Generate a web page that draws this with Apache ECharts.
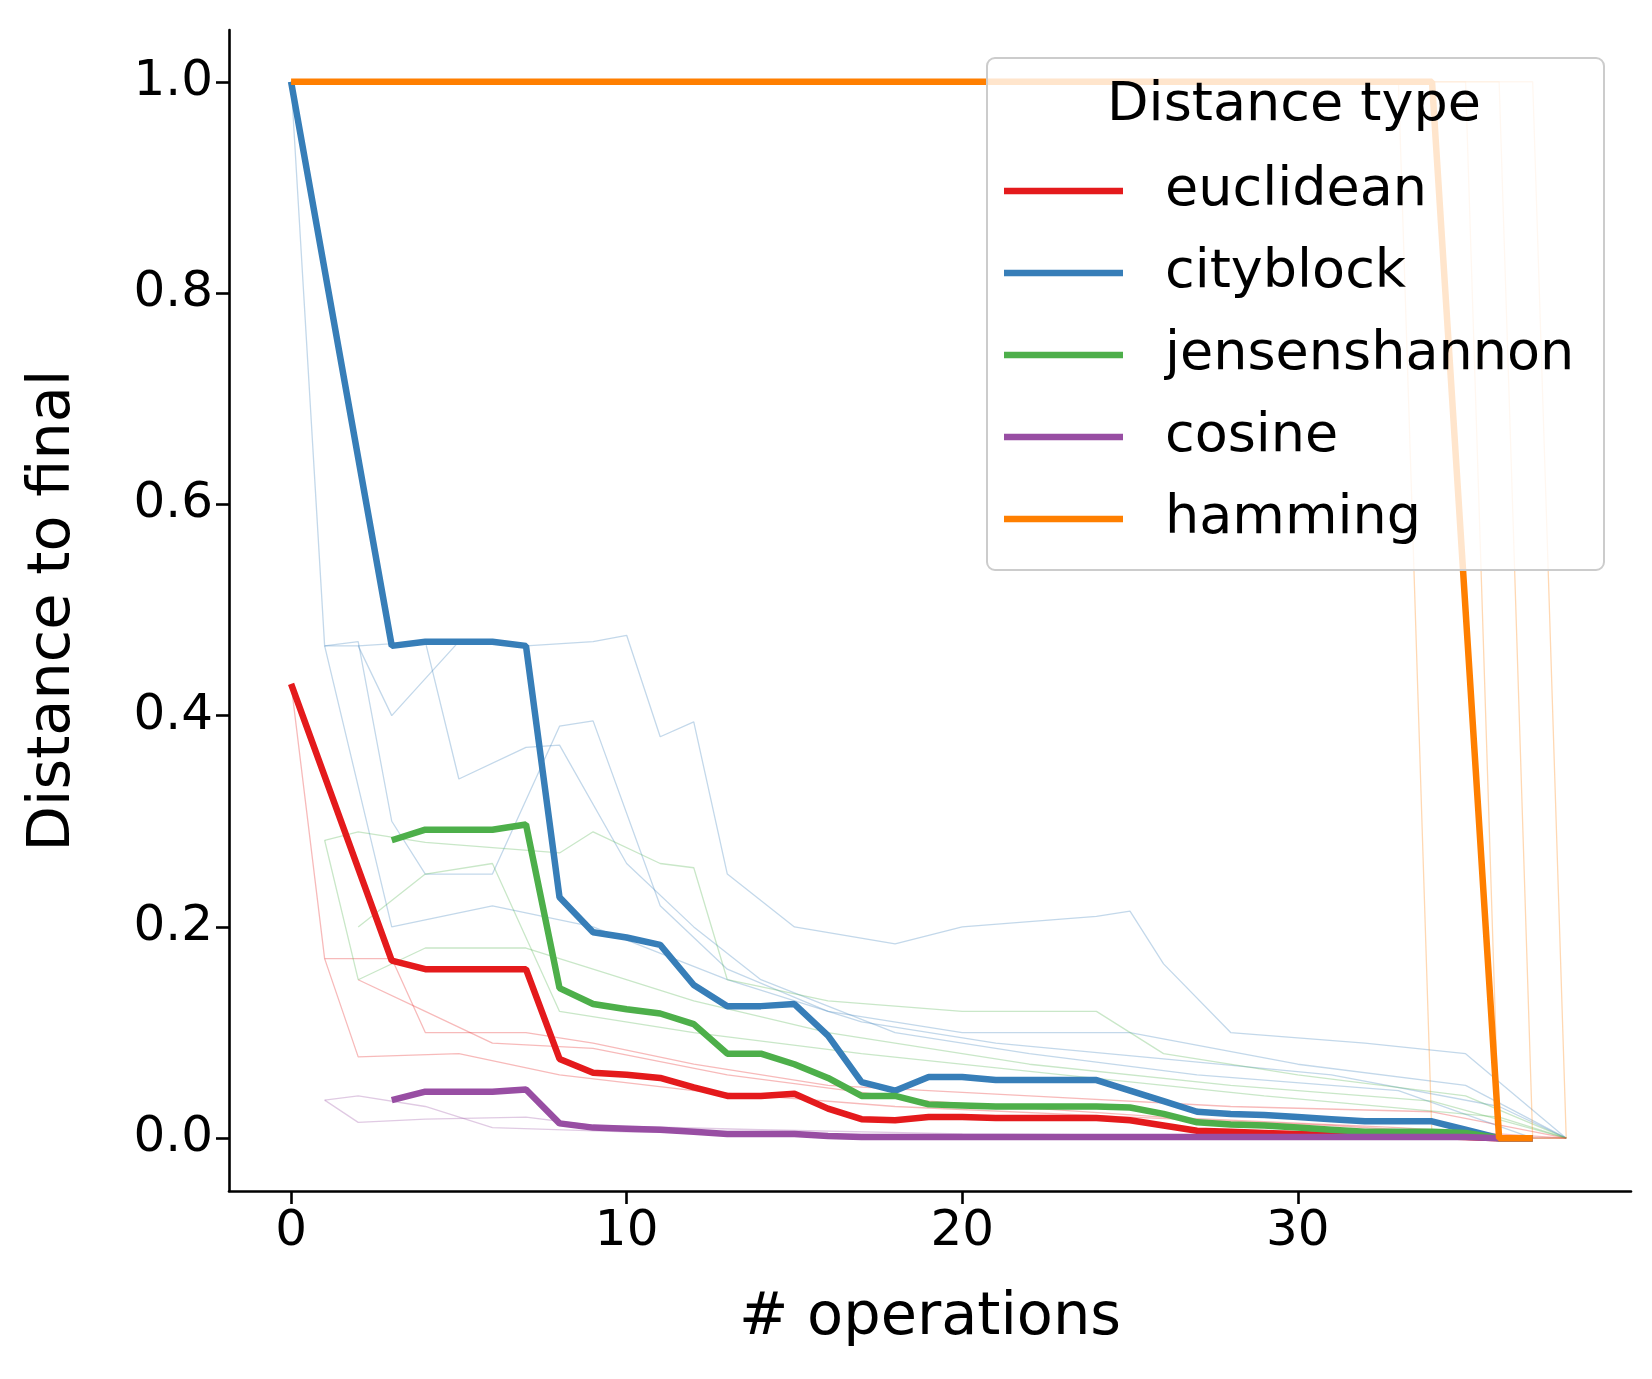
<!DOCTYPE html>
<html><head><meta charset="utf-8">
<script src="https://cdn.jsdelivr.net/npm/echarts@6/dist/echarts.min.js"></script>
<style>html,body{margin:0;padding:0;background:#fff}#c{width:1652px;height:1379px}</style>
</head><body><div id="c"></div>
<script>
const euclidX=[0,3,4,5,6,7,8,9,10,11,12,13,14,15,16,17,18,19,20,21,22,23,24,25,26,27,28,29,30,31,32,33,34,35,36,37];
const euclidY=[0.43,0.168,0.16,0.16,0.16,0.16,0.075,0.062,0.06,0.057,0.048,0.04,0.04,0.042,0.028,0.018,0.017,0.02,0.02,0.019,0.019,0.019,0.019,0.017,0.012,0.007,0.006,0.005,0.004,0.003,0.002,0.002,0.002,0.001,0,0];
const cityX=[0,3,4,5,6,7,8,9,10,11,12,13,14,15,16,17,18,19,20,21,22,23,24,25,26,27,28,29,30,31,32,33,34,35,36,37];
const cityY=[1.0,0.466,0.47,0.47,0.47,0.466,0.228,0.195,0.19,0.183,0.145,0.125,0.125,0.127,0.097,0.053,0.045,0.058,0.058,0.055,0.055,0.055,0.055,0.045,0.035,0.025,0.023,0.022,0.02,0.018,0.016,0.016,0.016,0.008,0,0];
const jsX=[3,4,5,6,7,8,9,10,11,12,13,14,15,16,17,18,19,20,21,22,23,24,25,26,27,28,29,30,31,32,33,34,35,36,37];
const jsY=[0.282,0.292,0.292,0.292,0.297,0.142,0.127,0.122,0.118,0.108,0.08,0.08,0.07,0.057,0.04,0.04,0.032,0.031,0.03,0.03,0.03,0.03,0.029,0.023,0.015,0.013,0.012,0.01,0.008,0.006,0.006,0.006,0.005,0,0];
const cosX=[3,4,5,6,7,8,9,10,11,12,13,14,15,16,17,18,19,20,21,22,23,24,25,26,27,28,29,30,31,32,33,34,35,36,37];
const cosY=[0.036,0.044,0.044,0.044,0.046,0.014,0.01,0.009,0.008,0.006,0.004,0.004,0.004,0.002,0.001,0.001,0.001,0.001,0.001,0.001,0.001,0.001,0.001,0.001,0.001,0.001,0.001,0.001,0.001,0.001,0.001,0.001,0.001,0,0];
const hamX=[0,34,36,37];
const hamY=[1.0,1.0,0,0];
const faintCity=[
 [[0,1.0],[1,0.466],[2,0.466],[3,0.4],[5,0.47],[7,0.466],[9,0.47],[10,0.476],[11,0.38],[12,0.394],[13,0.25],[15,0.2],[18,0.184],[20,0.2],[24,0.21],[25,0.215],[26,0.165],[28,0.1],[32,0.09],[35,0.08],[38,0]],
 [[1,0.466],[2,0.47],[3,0.3],[4,0.25],[6,0.25],[8,0.39],[9,0.395],[11,0.22],[13,0.16],[16,0.12],[20,0.1],[25,0.1],[30,0.07],[35,0.05],[38,0]],
 [[2,0.466],[4,0.47],[5,0.34],[7,0.37],[8,0.372],[10,0.26],[12,0.2],[14,0.15],[18,0.1],[22,0.08],[27,0.06],[33,0.045],[37,0]],
 [[1,0.466],[3,0.2],[6,0.22],[9,0.2],[13,0.15],[17,0.11],[21,0.09],[26,0.075],[31,0.06],[36,0.03],[38,0]]];
const faintEuclid=[
 [[0,0.43],[1,0.17],[3,0.17],[4,0.1],[7,0.1],[9,0.09],[12,0.07],[16,0.05],[22,0.04],[28,0.03],[34,0.025],[38,0]],
 [[1,0.17],[2,0.077],[5,0.08],[8,0.06],[12,0.045],[18,0.03],[25,0.02],[31,0.012],[37,0]],
 [[2,0.15],[4,0.12],[6,0.09],[9,0.085],[13,0.06],[19,0.035],[26,0.02],[33,0.01],[38,0]]];
const faintJs=[
 [[1,0.282],[2,0.29],[4,0.28],[8,0.27],[9,0.29],[11,0.26],[12,0.256],[13,0.15],[16,0.13],[20,0.12],[24,0.12],[26,0.08],[30,0.06],[35,0.04],[38,0]],
 [[1,0.282],[2,0.15],[4,0.18],[7,0.18],[9,0.16],[12,0.13],[16,0.1],[22,0.07],[28,0.05],[34,0.035],[38,0]],
 [[2,0.2],[4,0.25],[6,0.26],[8,0.12],[12,0.1],[17,0.08],[23,0.06],[29,0.04],[36,0.02],[38,0]]];
const faintCos=[
 [[1,0.036],[2,0.015],[4,0.018],[7,0.02],[9,0.012],[14,0.008],[20,0.004],[30,0.002],[38,0]],
 [[1,0.036],[2,0.04],[4,0.03],[6,0.01],[10,0.006],[18,0.003],[28,0.001],[38,0]]];
const faintHam=[
 [[0,1.0],[33,1.0],[34,0],[38,0]],[[0,1.0],[35,1.0],[36,0],[38,0]],[[0,1.0],[37,1.0],[38,0]],[[0,1.0],[36,1.0],[37,0]]];

const C={euclidean:'#e41a1c',cityblock:'#377eb8',jensenshannon:'#4daf4a',cosine:'#984ea3',hamming:'#ff7f00'};
const zip=(xs,ys)=>xs.map((x,i)=>[x,ys[i]]);
const series=[];
function faint(arr,col){arr.forEach(d=>series.push({type:'line',data:d,symbol:'none',silent:true,z:1,lineStyle:{color:col,width:1.3,opacity:0.3}}));}
faint(faintEuclid,C.euclidean);faint(faintCity,C.cityblock);faint(faintJs,C.jensenshannon);faint(faintCos,C.cosine);faint(faintHam,C.hamming);
[['euclidean',euclidX,euclidY],['cityblock',cityX,cityY],['jensenshannon',jsX,jsY],['cosine',cosX,cosY],['hamming',hamX,hamY]].forEach(([n,x,y])=>{
 series.push({type:'line',name:n,data:zip(x,y),symbol:'none',z:3,lineStyle:{color:C[n],width:6.5},itemStyle:{color:C[n]}});
});
const ch=echarts.init(document.getElementById('c'));
const F='DejaVu Sans';
ch.setOption({
 animation:false,
 grid:{left:229,top:30,right:21,bottom:188},
 xAxis:{type:'value',min:-1.85,max:39.93,name:'# operations',nameLocation:'middle',nameGap:98,
  nameTextStyle:{fontFamily:F,fontSize:59,color:'#000'},
  axisLine:{onZero:false,lineStyle:{color:'#000',width:2.6}},splitLine:{show:false},
  axisTick:{customValues:[0,10,20,30],length:13,lineStyle:{color:'#000',width:2.6}},
  axisLabel:{customValues:[0,10,20,30],fontFamily:F,fontSize:50,color:'#000',margin:16}},
 yAxis:{type:'value',min:-0.05,max:1.049,name:'Distance to final',nameLocation:'middle',nameGap:146,
  nameTextStyle:{fontFamily:F,fontSize:59,color:'#000'},
  axisLine:{show:true,onZero:false,lineStyle:{color:'#000',width:2.6}},splitLine:{show:false},
  axisTick:{show:true,customValues:[0,0.2,0.4,0.6,0.8,1.0],length:13,lineStyle:{color:'#000',width:2.6}},
  axisLabel:{customValues:[0,0.2,0.4,0.6,0.8,1.0],fontFamily:F,fontSize:50,color:'#000',margin:16,formatter:v=>v.toFixed(1)}},
 graphic:[
  {type:'rect',z:10,shape:{x:987,y:58,width:617,height:512,r:8},style:{fill:'rgba(255,255,255,0.8)',stroke:'#ccc',lineWidth:2}},
  {type:'text',z:11,x:1294,y:106,style:{text:'Distance type',font:'54px "DejaVu Sans"',fill:'#000',align:'center',verticalAlign:'middle'}}
 ],
 legend:{orient:'vertical',left:1004,top:164,z:12,padding:0,itemWidth:119,itemHeight:54,itemGap:28,
  icon:'path://M0,0 L119,0 L119,6.5 L0,6.5 Z',
  textStyle:{fontFamily:F,fontSize:54,lineHeight:54,color:'#000',padding:[0,0,0,37]},
  data:['euclidean','cityblock','jensenshannon','cosine','hamming']},
 series
});
</script></body></html>
